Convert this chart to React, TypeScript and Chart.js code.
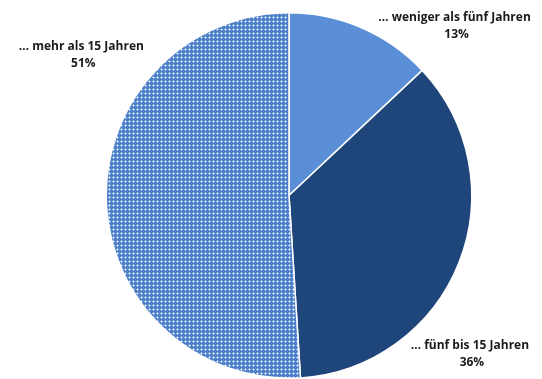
import React, { useEffect, useRef } from "react";
import { Chart, registerables } from "chart.js";

Chart.register(...registerables);

const categories = ["… weniger als fünf Jahren", "… fünf bis 15 Jahren", "… mehr als 15 Jahren"];
const values = [13, 36, 51];
const percentLabels = ["13%", "36%", "51%"];

function makePattern(): CanvasPattern | string {
  const c = document.createElement("canvas");
  c.width = 4;
  c.height = 4;
  const g = c.getContext("2d");
  if (!g) return "#6E98D6";
  g.fillStyle = "#4F80CA";
  g.fillRect(0, 0, 4, 4);
  g.fillStyle = "#9CBAE6";
  g.fillRect(0, 1, 3, 1);
  g.fillRect(1, 0, 1, 3);
  g.fillStyle = "#FFFFFF";
  g.fillRect(1, 1, 1, 1);
  const p = g.createPattern(c, "repeat");
  return p || "#6E98D6";
}

const labelPlugin = {
  id: "pieLabels",
  afterDatasetsDraw(chart: any, _args: any, opts: any) {
    const ctx = chart.ctx;
    const meta = chart.getDatasetMeta(0);
    const offsets = opts.offsets as number[][];
    ctx.save();
    ctx.fillStyle = "#1a1a1a";
    ctx.textAlign = "center";
    ctx.textBaseline = "middle";
    ctx.font = "bold 12px 'Open Sans', sans-serif";
    meta.data.forEach((arc: any, i: number) => {
      const mid = (arc.startAngle + arc.endAngle) / 2;
      const ex = arc.x + Math.cos(mid) * arc.outerRadius;
      const ey = arc.y + Math.sin(mid) * arc.outerRadius;
      const x = ex + offsets[i][0];
      const y = ey + offsets[i][1];
      ctx.fillText(categories[i], x, y - 8);
      ctx.fillText(percentLabels[i], x + 2, y + 9);
    });
    ctx.restore();
  },
};

export default function App() {
  const ref = useRef<HTMLCanvasElement>(null);
  useEffect(() => {
    document.body.style.margin = "0";
    const canvas = ref.current!;
    const chart = new Chart(canvas, {
      type: "pie",
      data: {
        labels: categories,
        datasets: [
          {
            data: values,
            backgroundColor: ["#5A8ED6", "#1F467A", makePattern() as any],
            borderColor: "#FFFFFF",
            borderWidth: 1.5,
          },
        ],
      },
      options: {
        animation: false,
        responsive: false,
        layout: { padding: { left: 105, right: 69, top: 12, bottom: 0 } },
        plugins: {
          legend: { display: false },
          tooltip: { enabled: false },
          pieLabels: { offsets: [[93, -2], [11, 91], [-25, -147]] },
        } as any,
      },
      plugins: [labelPlugin],
    });
    return () => chart.destroy();
  }, []);
  return <canvas ref={ref} width={542} height={379} style={{ display: "block" }} />;
}
